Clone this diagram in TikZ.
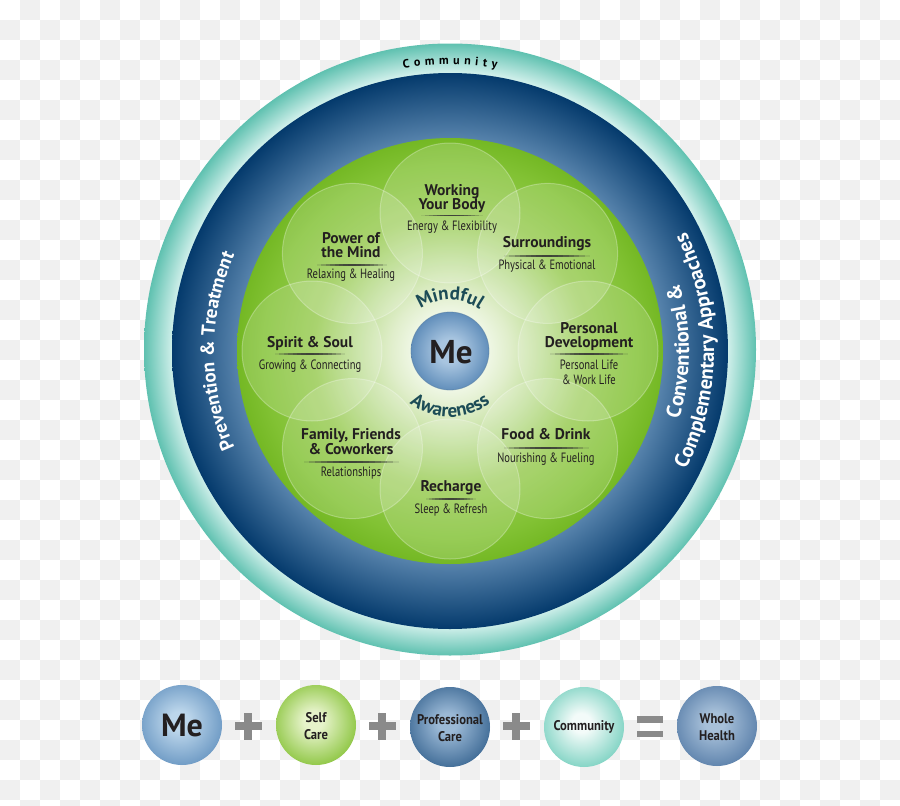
\documentclass[tikz,border=0pt]{standalone}
\usepackage{fontspec}
\setmainfont{PT Sans}
\newfontfamily\condfont[FakeStretch=0.78]{PT Sans}
\newfontfamily\btmfont[FakeStretch=0.9]{PT Sans}
\usetikzlibrary{decorations.text}

\definecolor{chk}{HTML}{F0F0F0}
\definecolor{txt}{HTML}{231F20}
\definecolor{tealA}{HTML}{CFEFEA}
\definecolor{tealB}{HTML}{5FC1B0}
\definecolor{blueA}{HTML}{5783AC}
\definecolor{blueB}{HTML}{043A6C}
\definecolor{gA}{HTML}{EFF7E5}
\definecolor{gB}{HTML}{E0EECB}
\definecolor{gC}{HTML}{C0DF98}
\definecolor{gD}{HTML}{98CB52}
\definecolor{gE}{HTML}{82C234}
\definecolor{gF}{HTML}{74B824}
\definecolor{meA}{HTML}{A8C5E0}
\definecolor{meB}{HTML}{628FBB}
\definecolor{mindc}{HTML}{1C4C56}
\definecolor{rulec}{HTML}{333333}
\definecolor{plusc}{HTML}{8A8A8A}
\definecolor{bmeA}{HTML}{BCD6EB}
\definecolor{bmeB}{HTML}{6B98C3}
\definecolor{bscA}{HTML}{E6F3CA}
\definecolor{bscB}{HTML}{8CC540}
\definecolor{bpcA}{HTML}{9BB9D6}
\definecolor{bpcB}{HTML}{3E6A95}
\definecolor{bcoA}{HTML}{F3FBF9}
\definecolor{bcoB}{HTML}{7DD2C2}
\definecolor{bwhA}{HTML}{A7C0D9}
\definecolor{bwhB}{HTML}{5C81AB}

\pgfdeclareradialshading{tealsh}{\pgfpoint{0bp}{0bp}}{color(0bp)=(tealA); color(22.7bp)=(tealA); color(25bp)=(tealB); color(50bp)=(tealB)}
\pgfdeclareradialshading{bluesh}{\pgfpoint{0bp}{0bp}}{color(0bp)=(blueA); color(19.1bp)=(blueA); color(25bp)=(blueB); color(50bp)=(blueB)}
\pgfdeclareradialshading{greensh}{\pgfpoint{0bp}{0bp}}{color(0bp)=(gA); color(4.5bp)=(gA); color(7bp)=(gB); color(11bp)=(gC); color(16bp)=(gD); color(22bp)=(gE); color(25bp)=(gF); color(50bp)=(gF)}
\pgfdeclareradialshading{mesh}{\pgfpoint{0bp}{0bp}}{color(0bp)=(meA); color(8bp)=(meA); color(25bp)=(meB); color(50bp)=(meB)}
\pgfdeclareradialshading{bmesh}{\pgfpoint{-2bp}{3bp}}{color(0bp)=(bmeA); color(6bp)=(bmeA); color(28bp)=(bmeB); color(50bp)=(bmeB)}
\pgfdeclareradialshading{bscsh}{\pgfpoint{-2bp}{3bp}}{color(0bp)=(bscA); color(6bp)=(bscA); color(28bp)=(bscB); color(50bp)=(bscB)}
\pgfdeclareradialshading{bpcsh}{\pgfpoint{-2bp}{3bp}}{color(0bp)=(bpcA); color(6bp)=(bpcA); color(28bp)=(bpcB); color(50bp)=(bpcB)}
\pgfdeclareradialshading{bcosh}{\pgfpoint{-2bp}{3bp}}{color(0bp)=(bcoA); color(6bp)=(bcoA); color(28bp)=(bcoB); color(50bp)=(bcoB)}
\pgfdeclareradialshading{bwhsh}{\pgfpoint{-2bp}{3bp}}{color(0bp)=(bwhA); color(6bp)=(bwhA); color(28bp)=(bwhB); color(50bp)=(bwhB)}

\newcommand\phead{\fontsize{15.5}{15.5}\selectfont\bfseries}
\newcommand\psub{\condfont\fontsize{13.5}{13.5}\selectfont}
\newcommand\btmtext{\btmfont\bfseries\fontsize{14}{17}\selectfont}
\newcommand\prule[3]{%
  \foreach \k in {-8,...,7}{%
    \pgfmathsetmacro\rop{0.9*(1-((\k+0.5)/8)^2)}%
    \fill[rulec, opacity=\rop] (#1+\k*#3/16,-#2+0.6) rectangle (#1+\k*#3/16+#3/16,-#2-0.6);%
  }}

\tikzset{
  hd/.style={font=\phead, text=txt, inner sep=0pt, anchor=base},
  sb/.style={font=\psub, text=txt, inner sep=0pt, anchor=base},
  petal/.style={fill=white, fill opacity=0.17, draw=white, draw opacity=0.28, line width=1pt},
  ball/.style={circle, minimum size=79pt, inner sep=0pt},
  btm/.style={font=\btmtext, text=txt, align=center, inner sep=0pt},
}

\begin{document}
\begin{tikzpicture}[x=1pt,y=1pt]
\useasboundingbox (0,0) rectangle (900,-806);
% transparency checkerboard
\fill[white] (0,0) rectangle (900,-806);
\foreach \i in {0,...,44}{
  \foreach \j in {0,...,40}{
    \pgfmathtruncatemacro{\chkpar}{mod(\i+\j,2)}
    \ifnum\chkpar=1 \fill[chk] (\i*20,-\j*20) rectangle ++(20,-20);\fi
  }
}

\coordinate (OT) at (450,-349.5);
\coordinate (O) at (450,-351);

% rings
\shade[shading=tealsh] (OT) circle[radius=306];
\shade[shading=bluesh] (O) circle[radius=278];
\shade[shading=greensh] (O) circle[radius=213];

% petals
\foreach \a in {90,45,0,-45,-90,-135,180,135}{
  \path[petal] ([shift={(O)}]\a:138) circle[radius=70];
}

% center Me
\shade[shading=mesh] (O) circle[radius=39];
\draw[meB!85!black, line width=0.8pt, opacity=0.5] (O) circle[radius=39];
\node[font=\fontsize{33}{33}\selectfont\bfseries, text=txt, inner sep=0pt] (me) at (451,-352) {Me};

% arc texts
\path[decorate, decoration={text along path, text align=center, text color=mindc,
  text={|\fontsize{19}{19}\selectfont\bfseries|Mindful}}]
  ([shift={(O)}]165:51) arc[start angle=165, end angle=15, radius=51];
\path[decorate, decoration={text along path, text align=center, text color=mindc,
  text={|\fontsize{19}{19}\selectfont\bfseries|Awareness}}]
  ([shift={(O)}]195:66) arc[start angle=195, end angle=345, radius=66];

\path[decorate, decoration={text along path, text align=center, text color=white,
  text={|\fontsize{19}{19}\selectfont\bfseries|Prevention {\&} Treatment}}]
  ([shift={(O)}]235:236) arc[start angle=235, end angle=125, radius=236];

\path[decorate, decoration={text along path, text align=center, text color=white,
  text={|\fontsize{20.5}{20.5}\selectfont\bfseries|Conventional {\&}}}]
  ([shift={(O)}]-45:239) arc[start angle=-45, end angle=45, radius=239];
\path[decorate, decoration={text along path, text align=center, text color=white,
  text={|\fontsize{20.5}{20.5}\selectfont\bfseries|Complementary Approaches}}]
  ([shift={(O)}]-45:264) arc[start angle=-45, end angle=45, radius=264];

\path[decorate, decoration={text along path, text align=center, text color=black,
  text={|\fontsize{12}{12}\selectfont\bfseries|{C\kern4.4pt}{o\kern4.4pt}{m\kern4.4pt}{m\kern4.4pt}{u\kern4.4pt}{n\kern4.4pt}{i\kern4.4pt}{t\kern4.4pt}{y}}}]
  ([shift={(OT)}]115:285) arc[start angle=115, end angle=65, radius=285];

% petal texts
\node[hd] (wyb1) at (452,-195) {Working};
\node[hd] (wyb2) at (452,-209) {Your Body};
\prule{452}{215.5}{62}
\node[sb] (wyb3) at (452,-230) {Energy \& Flexibility};

\node[hd] (pm1) at (351,-243) {Power of};
\node[hd] (pm2) at (351,-257) {the Mind};
\prule{352}{265}{70}
\node[sb] (pm3) at (351,-278) {Relaxing \& Healing};

\node[hd] (su1) at (547,-247) {Surroundings};
\prule{547}{256}{86}
\node[sb] (su2) at (547,-269) {Physical \& Emotional};

\node[hd] (ss1) at (310,-347) {Spirit \& Soul};
\prule{310}{354}{70}
\node[sb] (ss2) at (310,-369) {Growing \& Connecting};

\node[hd] (pd1) at (589,-333) {Personal};
\node[hd] (pd2) at (589,-347) {Development};
\prule{589}{354}{78}
\node[sb] (pd3) at (589,-369) {Personal Life};
\node[sb] (pd4) at (589,-384) {\& Work Life};

\node[hd] (ff1) at (351,-439) {Family, Friends};
\node[hd] (ff2) at (351,-454) {\& Coworkers};
\prule{351}{462}{95}
\node[sb] (ff3) at (351,-476) {Relationships};

\node[hd] (fd1) at (546,-439) {Food \& Drink};
\prule{546}{448}{85}
\node[sb] (fd2) at (546,-462) {Nourishing \& Fueling};

\node[hd] (rc1) at (451,-491) {Recharge};
\prule{451}{499}{50}
\node[sb] (rc2) at (451,-513) {Sleep \& Refresh};

% bottom equation
\node[ball, shading=bmesh, minimum width=78pt, minimum height=80pt] (bme) at (182,-725) {};
\node[ball, shading=bscsh, minimum width=78pt, minimum height=80pt] (bsc) at (316,-725) {};
\node[ball, shading=bpcsh, minimum width=78pt, minimum height=80pt] (bpc) at (450,-727) {};
\node[ball, shading=bcosh, minimum width=78pt, minimum height=80pt] (bco) at (584,-727) {};
\node[ball, shading=bwhsh, minimum width=78pt, minimum height=80pt] (bwh) at (717,-726) {};

\node[font=\fontsize{32}{32}\selectfont\bfseries, text=txt, inner sep=0pt] (bmet) at (182,-726) {Me};
\node[btm] (bsct) at (316,-726) {Self\\Care};
\node[btm] (bpct) at (450,-728) {Professional\\Care};
\node[btm] (bcot) at (584,-727) {Community};
\node[btm] (bwht) at (717,-727) {Whole\\Health};

\foreach \px in {248,382,516}{
  \fill[plusc] (\px-13.5,-726-4) rectangle (\px+13.5,-726+4);
  \fill[plusc] (\px-4,-726-13.5) rectangle (\px+4,-726+13.5);
}
\fill[plusc] (637,-716) rectangle (663,-722.5);
\fill[plusc] (637,-730.5) rectangle (663,-737);
\end{tikzpicture}
\end{document}
